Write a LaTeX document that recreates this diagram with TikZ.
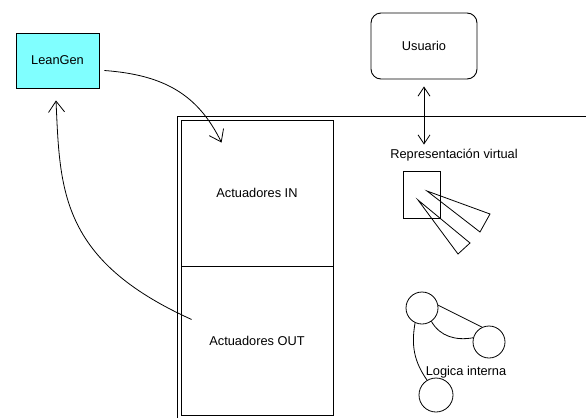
\documentclass[tikz,border=0pt]{standalone}
\usepackage{fontspec}
\setmainfont{Liberation Sans}
\usepackage{tikz}
\usetikzlibrary{
  arrows.meta,%
  positioning,%
  calc
}
\definecolor{leancyan}{RGB}{128, 255, 255}
\tikzset{>={Straight Barb[length=11pt, width=16pt]}}
\tikzset{font=\fontsize{12.8}{15}\selectfont}
\tikzset{every node/.style={inner sep=0pt},
  caja/.style={draw, line width=0.9pt, rectangle},
  nodo/.style={draw, line width=0.8pt, circle, minimum size=32pt},
  flecha/.style={->, line width=0.8pt}}

\begin{document}
\begin{tikzpicture}[x=1pt, y=-1pt, line width=0.8pt]
              \useasboundingbox (0, 0) rectangle (586, 418); %
              \node[caja, fill=leancyan, minimum width=83pt, minimum height=55pt] (leangen) at (57.5, 60.5) {LeanGen}; %
              \node[caja, rounded corners=10pt, minimum width=106pt, minimum height=66pt] (usuario) at (424, 46) {Usuario}; %
              % marco del sistema
              \draw (177, 418) -- (177, 116) -- (586, 116); %
              \node[caja, minimum width=152pt, minimum height=146pt] (actin) at (257, 193) {Actuadores IN}; %
              \node[caja, minimum width=152pt, minimum height=149pt, below=0pt of actin] (actout) {Actuadores OUT}; %
              \node (repr) at (454, 155) {Representación virtual}; %
              \node[caja, line width=0.8pt, minimum width=37pt, minimum height=47pt] (camara) at (421.5, 194.5) {}; %
              \draw (427, 191) -- (490, 214) -- (480, 232) -- cycle; %
              \draw (418, 200) -- (470, 243) -- (458, 254) -- cycle; %
              % logica interna
              \node[nodo] (c1) at (422, 308) {}; %
              \node[nodo] (c2) at (489, 342) {}; %
              \node[nodo, minimum width=34pt, minimum height=31pt] (c3) at (436, 395) {}; %
              \draw (c1.10) -- (c2.115); %
              \draw (c1.-55) to[out=-60, in=190] (c2.165); %
              \draw (c1.-115) to[out=-100, in=125] (c3.121); %
              \node (logica) at (466, 372) {Logica interna}; %
              % flechas
              \draw[flecha] ([xshift=5pt, yshift=-10pt]leangen.east) .. controls (165, 75) and (198, 95) .. ([xshift=41pt, yshift=-23pt]actin.north west); %
              \draw[flecha] ([xshift=11pt, yshift=-53pt]actout.north west) .. controls (60, 260) and (60, 190) .. ([xshift=-1.5pt, yshift=-12pt]leangen.south); %
              \draw[{Straight Barb[length=9pt, width=12pt]}-{Straight Barb[length=9pt, width=12pt]}] ([yshift=-7pt]usuario.south) -- ([yshift=4pt]usuario.south |- repr.north); %
            \end{tikzpicture}
\end{document}
